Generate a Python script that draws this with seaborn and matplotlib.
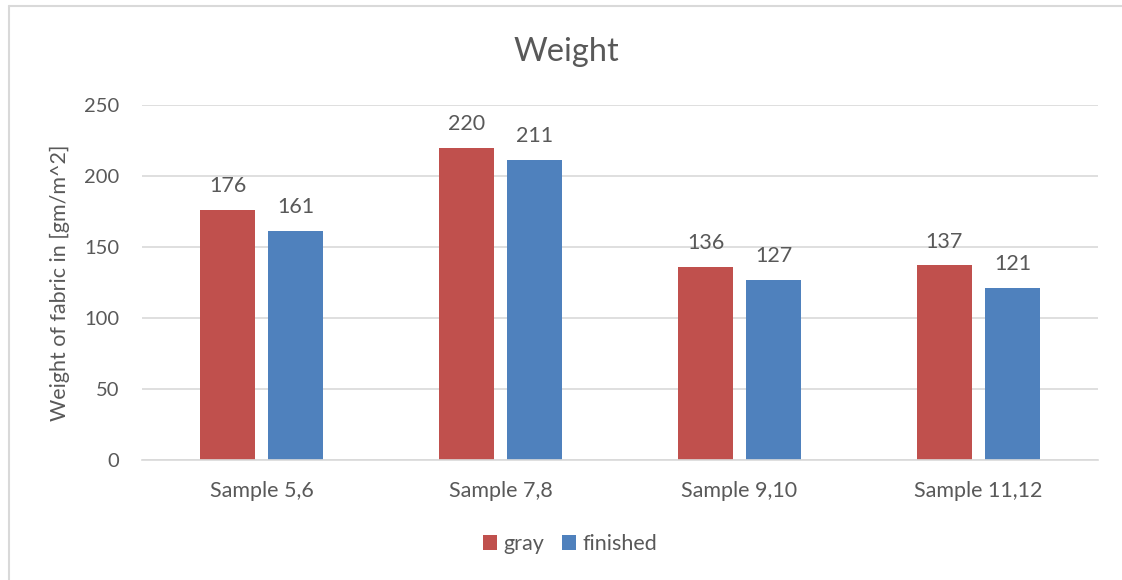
import matplotlib
matplotlib.use("Agg")
import matplotlib.pyplot as plt
from matplotlib.lines import Line2D
import seaborn as sns
import pandas as pd

categories = ["Sample 5,6", "Sample 7,8", "Sample 9,10", "Sample 11,12"]
series_names = ["gray", "finished"]
gray_values = [176, 220, 136, 137]
finished_values = [161, 211, 127, 121]
y_ticks = [0, 50, 100, 150, 200, 250]

colors = {"gray": "#C0504D", "finished": "#4F81BD"}
text_color = "#595959"
grid_color = "#D9D9D9"

df = pd.DataFrame({
    "Sample": categories * 2,
    "Series": [series_names[0]] * len(categories) + [series_names[1]] * len(categories),
    "Weight": gray_values + finished_values,
})

sns.set_theme(style="white")
plt.rcParams["font.family"] = ["Lato", "DejaVu Sans"]

fig = plt.figure(figsize=(11.22, 5.8), dpi=100)
ax = fig.add_axes([142 / 1122, 1 - 460 / 580, (1098 - 142) / 1122, (460 - 105) / 580])

sns.barplot(data=df, x="Sample", y="Weight", hue="Series", hue_order=series_names,
            order=categories, palette=colors, width=0.57, gap=0.2,
            edgecolor="none", linewidth=0, saturation=1, ax=ax, errorbar=None)

ax.set_xlim(-0.5, len(categories) - 0.5)
ax.set_ylim(0, 250)
ax.set_yticks(y_ticks)
ax.yaxis.grid(True, color=grid_color, linewidth=1.2)
ax.set_axisbelow(True)
for side in ["top", "right", "left"]:
    ax.spines[side].set_visible(False)
ax.spines["bottom"].set_color(grid_color)
ax.spines["bottom"].set_linewidth(1.2)
ax.tick_params(axis="y", length=0, labelsize=14.5, colors=text_color, pad=16.5)
ax.tick_params(axis="x", length=0, labelsize=15.5, colors=text_color, pad=15)
ax.set_xlabel("")
ax.set_ylabel("Weight of fabric in [gm/m^2]", fontsize=15.5, color=text_color, labelpad=10)

for cont in ax.containers:
    ax.bar_label(cont, fmt="%d", padding=10, fontsize=15.5, color=text_color)

fig.text(0.505, 1 - 52 / 580, "Weight", ha="center", va="center", fontsize=23.5, color=text_color)

sns.move_legend(ax, "center", bbox_to_anchor=(0.508, 1 - 544 / 580), bbox_transform=fig.transFigure,
                ncol=2, frameon=False, title=None, fontsize=15.5, handlelength=0.66,
                handleheight=0.66, handletextpad=0.3, columnspacing=0.8)
for t in ax.get_legend().get_texts():
    t.set_color(text_color)

# outer chart border (top and left visible)
fig.add_artist(Line2D([9 / 1122, 9 / 1122], [0, 1 - 6 / 580], transform=fig.transFigure,
                      color="#D9D9D9", linewidth=1.5))
fig.add_artist(Line2D([9 / 1122, 1], [1 - 6 / 580, 1 - 6 / 580], transform=fig.transFigure,
                      color="#D9D9D9", linewidth=1.5))

fig.savefig("out.png", dpi=100)
